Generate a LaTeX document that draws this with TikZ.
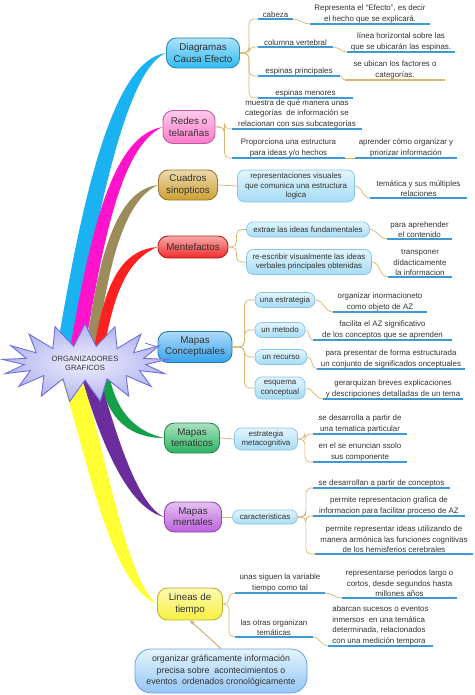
\documentclass[tikz,border=0pt]{standalone}
\usepackage{fontspec}
\setmainfont{Liberation Sans}
\usepackage{tikz}
\usetikzlibrary{shapes.symbols,calc,backgrounds,arrows.meta}

\definecolor{txt}{HTML}{333333}
\definecolor{tan}{HTML}{D9B56E}
\definecolor{ulin}{HTML}{3D9AD6}
\definecolor{bubT}{HTML}{E2F5FD}
\definecolor{bubF}{HTML}{A6DBF4}
\definecolor{bubB}{HTML}{86C4E8}
\definecolor{starI}{HTML}{EEEEFD}
\definecolor{starO}{HTML}{B4B4F0}
\definecolor{starB}{HTML}{6E6EE0}
\definecolor{cdce}{HTML}{30BAF2}
\definecolor{cred}{HTML}{FF7ACC}
\definecolor{ccua}{HTML}{CDA033}
\definecolor{cmtf}{HTML}{F02A2A}
\definecolor{cmco}{HTML}{35A2EE}
\definecolor{cmte}{HTML}{2CB463}
\definecolor{cmme}{HTML}{BD62DE}
\definecolor{clin}{HTML}{F8F040}
\definecolor{rcyan}{HTML}{1AB2F0}
\definecolor{rmag}{HTML}{FF14CC}
\definecolor{roli}{HTML}{9C8C5C}
\definecolor{rred}{HTML}{FF2020}
\definecolor{rgreen}{HTML}{14A048}
\definecolor{rpurp}{HTML}{6B2C9C}
\definecolor{ryel}{HTML}{FFFF33}

\newcommand\chico{\fontsize{7.9}{10.5}\selectfont}
\newcommand\chicob{\fontsize{7.9}{9.6}\selectfont}
\newcommand\grande{\fontsize{9.8}{11.2}\selectfont}
\newcommand\mediana{\fontsize{8.8}{11.5}\selectfont}
\newcommand\estrella{\fontsize{7.6}{9}\selectfont}

\begin{document}
\begin{tikzpicture}[x=1pt,y=-1pt,
  principal/.style={draw=#1!75!black, top color=#1!40!white, bottom color=#1, rounded corners=10pt, line width=0.9pt, font=\grande, text=txt, align=center, inner sep=1pt},
  burbuja/.style={draw=bubB, top color=bubT, bottom color=bubF, rounded corners=7pt, line width=0.7pt, font=\chicob, text=txt, align=center, inner sep=1pt},
  subr/.style={draw=ulin, line width=1.3pt},
  subrB/.style={draw=tan, line width=1.3pt},
  tema/.style={font=\chico, text=txt, align=center, inner sep=1pt, anchor=south, minimum width=#1, append after command={(\tikzlastnode.south west) edge[subr] (\tikzlastnode.south east)}},
  temaB/.style={font=\chico, text=txt, align=center, inner sep=1pt, anchor=south, minimum width=#1, append after command={(\tikzlastnode.south west) edge[subrB] (\tikzlastnode.south east)}},
  conn/.style={draw=tan, line width=0.7pt, rounded corners=5pt},
  flecha/.style={draw=tan!90!black, line width=0.8pt, -{Stealth[length=5pt,width=4pt]}}]
\useasboundingbox (0,0) rectangle (474,695);

\node[principal=cdce, minimum width=73, minimum height=30] (dce) at (203,53) {Diagramas\\Causa Efecto};
\node[principal=cred, minimum width=52, minimum height=33] (red) at (189,127) {Redes o\\telarañas};
\node[principal=ccua, minimum width=59, minimum height=30] (cua) at (188,185) {Cuadros\\sinopticos};
\node[principal=cmtf, minimum width=70, minimum height=22] (mtf) at (193,247) {Mentefactos};
\node[principal=cmco, minimum width=74, minimum height=31] (mco) at (195,347) {Mapas\\Conceptuales};
\node[principal=cmte, minimum width=55, minimum height=30] (mte) at (192,438) {Mapas\\tematicos};
\node[principal=cmme, minimum width=57, minimum height=30] (mme) at (193,517) {Mapas\\mentales};
\node[principal=clin, minimum width=65, minimum height=32] (lin) at (190,604) {Lineas de\\tiempo};

\node[draw=starB, line width=0.9pt, inner color=starI, outer color=starO, shape=starburst, starburst points=17, starburst point height=22pt, random starburst=0, minimum width=166pt, minimum height=78pt, font=\estrella, text=txt, align=center] (og) at (85,363) {ORGANIZADORES\\GRAFICOS};

\node[tema=35] (cab) at (275.5,19) {cabeza};
\node[tema=120] (cabT) at (370,24) {Representa el “Efecto”, es decir\\el hecho que se explicará.};
\node[tema=75] (col) at (295.5,47) {columna vertebral};
\node[tema=108] (colT) at (401,52) {línea horizontal sobre las\\que se ubicarán las espinas.};
\node[tema=82] (esp) at (299,76) {espinas principales};
\node[temaB=100] (espT) at (395,80) {se ubican los factores o\\categorías.};
\node[tema=95] (men) at (305.5,98) {espinas menores};

\node[tema=130] (mue) at (297,129) {muestra de qué manera unas\\categorías \ de información se\\relacionan con sus subcategorías};
\node[tema=113] (pro) at (288.5,158) {Proporciona una estructura\\para ideas y/o hechos};
\node[tema=102] (proT) at (406,158) {aprender cómo organizar y\\priorizar información};

\node[burbuja, minimum width=117, minimum height=32] (rep) at (296,186) {representaciones visuales\\que comunica una estructura\\logica};
\node[tema=97] (tem) at (418.5,198) {temática y sus múltiples\\relaciones};

\node[burbuja, minimum width=123, minimum height=15] (ext) at (308,229.5) {extrae las ideas fundamentales};
\node[burbuja, minimum width=125, minimum height=25] (ree) at (309,262) {re-escribir visualmente las ideas\\verbales principales obtenidas};
\node[tema=65] (par) at (419.5,239) {para aprehender\\el contenido};
\node[tema=64] (tra) at (420,277) {transponer\\didacticamente\\la informacion};

\node[burbuja, minimum width=60, minimum height=15] (est) at (285,300) {una estrategia};
\node[burbuja, minimum width=50, minimum height=15] (met) at (280,330) {un metodo};
\node[burbuja, minimum width=52, minimum height=15] (rec) at (281,357) {un recurso};
\node[burbuja, minimum width=50, minimum height=22] (esq) at (280,388) {esquema\\conceptual};
\node[tema=94] (orgT) at (380,312) {organizar inormacioneto\\como objeto de AZ};
\node[tema=139] (fac) at (382.5,340) {facilita el AZ significativo\\de los conceptos que se aprenden};
\node[tema=148] (pre) at (391,369) {para presentar de forma estructurada\\un conjunto de significados onceptuales};
\node[tema=140] (ger) at (393,399) {gerarquizan breves explicaciones\\y descripciones detalladas de un tema};

\node[burbuja, minimum width=63, minimum height=22] (meta) at (266,439) {estrategia\\metacognitiva};
\node[tema=94] (des) at (360,434) {se desarrolla a partir de\\una tematica particular};
\node[tema=94] (enu) at (360,462) {en el se enuncian ssolo\\sus componente};

\node[burbuja, minimum width=65, minimum height=14] (car) at (265,517) {caracteristicas};
\node[tema=137] (con) at (381.5,488) {se desarrollan a partir de conceptos};
\node[tema=152] (gra) at (389,516) {permite representacion grafica de\\informacion para facilitar proceso de AZ};
\node[tema=158] (hem) at (394,554) {permite representar ideas utilizando de\\manera armónica las funciones cognitivas\\de los hemisferios cerebrales};

\node[tema=90] (var) at (280,593) {unas siguen la variable\\tiempo como tal};
\node[tema=115] (perT) at (399.5,598) {representarse periodos largo o\\cortos, desde segundos hasta\\millones años};
\node[tema=78] (otr) at (274,637) {las otras organizan\\temáticas};
\node[tema=105, align=left] (aba) at (380.5,646) {abarcan sucesos o eventos\\inmersos \ en una temática\\determinada, relacionados\\con una medición tempora};

\node[draw=bubB!80!blue, top color=bubT, bottom color=bubF!90!blue, rounded corners=16pt, line width=0.8pt, font=\mediana, text=txt, align=center, inner sep=1pt, minimum width=172, minimum height=44] (nota) at (221,671) {organizar gráficamente información\\precisa sobre \ acontecimientos o\\eventos \ ordenados cronológicamente};

\draw[conn] (dce.east) -- ++(9,0) |- (cab.south west);
\draw[conn] (dce.east) -- ++(9,0) |- (col.south west);
\draw[conn] (dce.east) -- ++(9,0) |- (esp.south west);
\draw[conn] (dce.east) -- ++(9,0) |- (men.south west);
\draw[conn] (cab.south east) to[out=0,in=180] (cabT.south west);
\draw[conn] (col.south east) to[out=0,in=180] (colT.south west);
\draw[conn] (esp.south east) to[out=0,in=180] (espT.south west);

\draw[conn] (red.east) -- ++(9,0) |- (mue.south west);
\draw[conn] (red.east) -- ++(9,0) |- (pro.south west);
\draw[conn] (pro.south east) -- (proT.south west);

\draw[conn] (cua.east) -- (rep.west);
\draw[conn] (rep.east) to[out=0,in=180] (tem.south west);

\draw[conn] (mtf.east) -- ++(8,0) |- (ext.west);
\draw[conn] (mtf.east) -- ++(8,0) |- (ree.west);
\draw[conn] (ext.east) to[out=0,in=180] (par.south west);
\draw[conn] (ree.east) to[out=0,in=180] (tra.south west);

\draw[conn] (mco.east) -- ++(12,0) |- (est.west);
\draw[conn] (mco.east) -- ++(12,0) |- (met.west);
\draw[conn] (mco.east) -- ++(12,0) |- (rec.west);
\draw[conn] (mco.east) -- ++(12,0) |- (esq.west);
\draw[conn] (est.east) to[out=0,in=180] (orgT.south west);
\draw[conn] (met.east) to[out=0,in=180] (fac.south west);
\draw[conn] (rec.east) to[out=0,in=180] (pre.south west);
\draw[conn] (esq.east) to[out=0,in=180] (ger.south west);

\draw[conn] (mte.east) -- (meta.west);
\draw[conn] (meta.east) -- ++(7,0) |- (des.south west);
\draw[conn] (meta.east) -- ++(7,0) |- (enu.south west);

\draw[conn] (mme.east) -- (car.west);
\draw[conn] (car.east) -- ++(8,0) |- (con.south west);
\draw[conn] (car.east) -- ++(8,0) |- (gra.south west);
\draw[conn] (car.east) -- ++(8,0) |- (hem.south west);

\draw[conn] (lin.east) -- ++(6,0) |- (var.south west);
\draw[conn] (lin.east) -- ++(6,0) |- (otr.south west);
\draw[conn] (var.south east) to[out=0,in=180] (perT.south west);
\draw[conn] (otr.south east) to[out=0,in=180] (aba.south west);

\draw[flecha] (nota.north) -- (lin.south);

\begin{scope}[on background layer]
\fill[white] (0,0) rectangle (474,695);
\fill[rcyan] ($(og)+(-28,-14)$) .. controls (82,200) and (112,60) .. (dce.west) .. controls (128,68) and (100,200) .. ($(og)+(-12,-14)$) -- cycle;
\fill[rmag] ($(og)+(-15,-14)$) .. controls (92,220) and (115,135) .. (red.west) .. controls (125,145) and (106,220) .. ($(og)+(0,-14)$) -- cycle;
\fill[roli] ($(og)+(1,-14)$) .. controls (98,260) and (115,190) .. (cua.west) .. controls (124,200) and (108,265) .. ($(og)+(12,-14)$) -- cycle;
\fill[rred] ($(og)+(9,-14)$) .. controls (104,290) and (118,250) .. (mtf.west) .. controls (126,260) and (114,295) .. ($(og)+(19,-14)$) -- cycle;
\draw[starB!70!gray, line width=0.8pt] ($(og)+(60,-20)$) -- (mco.west);
\fill[rgreen] ($(og)+(15,16)$) .. controls (108,420) and (130,438) .. (mte.west) .. controls (138,432) and (118,415) .. ($(og)+(25,16)$) -- cycle;
\fill[rpurp] ($(og)+(-3,16)$) .. controls (102,445) and (128,508) .. (mme.west) .. controls (138,505) and (118,440) .. ($(og)+(15,16)$) -- cycle;
\fill[ryel] ($(og)+(-23,16)$) .. controls (88,460) and (110,585) .. (lin.west) .. controls (126,580) and (108,460) .. ($(og)+(-3,16)$) -- cycle;
\end{scope}
\end{tikzpicture}
\end{document}
